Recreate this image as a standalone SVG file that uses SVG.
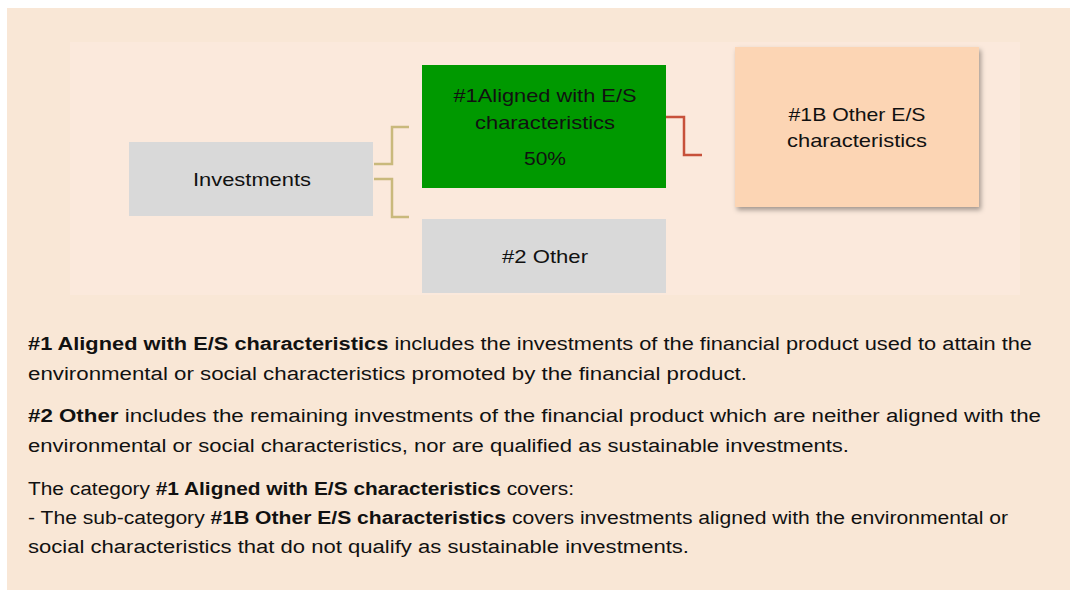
<svg xmlns="http://www.w3.org/2000/svg" width="1070" height="590" viewBox="0 0 1070 590">
<style>
.t{font-family:"Liberation Sans",Arial,sans-serif;fill:#111;}
.n{font-size:19px;text-anchor:middle;}
.b{font-size:18px;}
.bd{font-weight:bold;}
.grey{fill:#D9D9D9;}
.tan{fill:none;stroke:#C9B97C;stroke-width:2.5;}
.red{fill:none;stroke:#C7513A;stroke-width:2.5;}
</style>
<defs>
<filter id="sh" x="-10%" y="-10%" width="125%" height="130%">
<feDropShadow dx="2" dy="3" stdDeviation="2.5" flood-color="#000" flood-opacity="0.35"/>
</filter>
</defs>
<rect x="0" y="0" width="1070" height="590" fill="#FFFFFF"/>
<rect x="7" y="8" width="1063" height="582" fill="#F9E7D6"/>
<rect x="70" y="42" width="950" height="253" fill="#FBE9DC"/>
<g id="connectors">
<path class="tan" d="M374 164 H392 V127 H409"/>
<path class="tan" d="M374 179 H392 V217 H409"/>
<path class="red" d="M666 117 H684 V155 H702"/>
</g>
<g id="investments">
<rect class="grey" x="129" y="142" width="244" height="74"/>
<text class="t n" x="252" y="186" textLength="118" lengthAdjust="spacingAndGlyphs">Investments</text>
</g>
<g id="aligned">
<rect x="422" y="65" width="244" height="123" fill="#009900"/>
<text class="t n" x="545" y="102" textLength="183" lengthAdjust="spacingAndGlyphs">#1Aligned with E/S</text>
<text class="t n" x="545" y="129" textLength="140" lengthAdjust="spacingAndGlyphs">characteristics</text>
<text class="t n" x="545" y="165" textLength="42" lengthAdjust="spacingAndGlyphs">50%</text>
</g>
<g id="other">
<rect class="grey" x="422" y="219" width="244" height="74"/>
<text class="t n" x="545" y="263" textLength="86" lengthAdjust="spacingAndGlyphs">#2 Other</text>
</g>
<g id="other-es">
<rect x="735" y="47" width="244" height="160" fill="#FCD5B4" filter="url(#sh)"/>
<text class="t n" x="857" y="121" textLength="137" lengthAdjust="spacingAndGlyphs">#1B Other E/S</text>
<text class="t n" x="857" y="147" textLength="140" lengthAdjust="spacingAndGlyphs">characteristics</text>
</g>
<g id="legend">
<text class="t b" x="28" y="350" textLength="1004" lengthAdjust="spacingAndGlyphs"><tspan class="bd">#1 Aligned with E/S characteristics</tspan> includes the investments of the financial product used to attain the</text>
<text class="t b" x="28" y="380" textLength="719" lengthAdjust="spacingAndGlyphs">environmental or social characteristics promoted by the financial product.</text>
<text class="t b" x="28" y="422" textLength="1013" lengthAdjust="spacingAndGlyphs"><tspan class="bd">#2 Other</tspan> includes the remaining investments of the financial product which are neither aligned with the</text>
<text class="t b" x="28" y="452" textLength="821" lengthAdjust="spacingAndGlyphs">environmental or social characteristics, nor are qualified as sustainable investments.</text>
<text class="t b" x="28" y="495" textLength="546" lengthAdjust="spacingAndGlyphs">The category <tspan class="bd">#1 Aligned with E/S characteristics</tspan> covers:</text>
<text class="t b" x="28" y="524" textLength="980" lengthAdjust="spacingAndGlyphs">- The sub-category <tspan class="bd">#1B Other E/S characteristics</tspan> covers investments aligned with the environmental or</text>
<text class="t b" x="28" y="553" textLength="661" lengthAdjust="spacingAndGlyphs">social characteristics that do not qualify as sustainable investments.</text>
</g>
</svg>
